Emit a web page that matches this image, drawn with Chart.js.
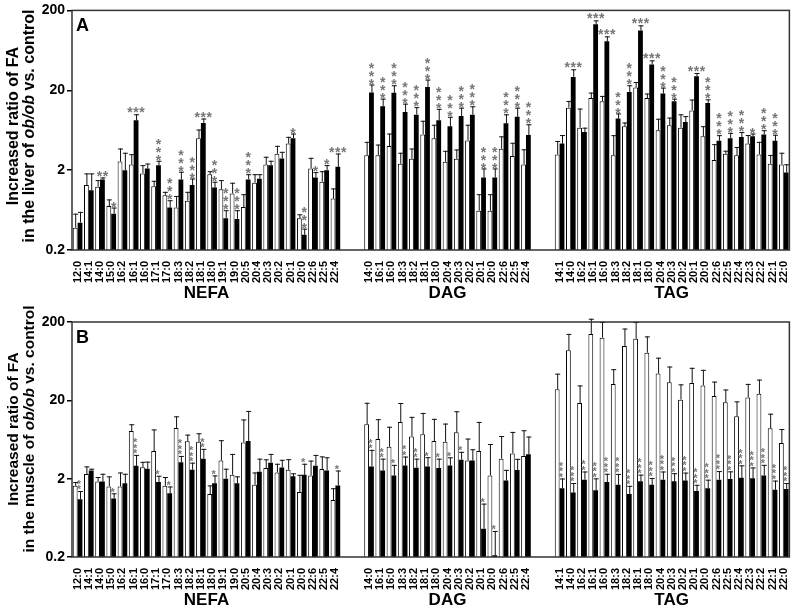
<!DOCTYPE html>
<html lang="en">
<head>
<meta charset="UTF-8" />
<title>FA ratio ob/ob vs control</title>
<script src="https://cdn.jsdelivr.net/npm/chart.js@4.4.1/dist/chart.umd.min.js"></script>
<style>
  body { margin: 0; background: #fff; }
  canvas { display: block; }
</style>
</head>
<body>
<canvas id="liver" width="800" height="300"></canvas>
<canvas id="muscle" width="800" height="309"></canvas>
<script>
// categories
const nefaLabels = ["12:0","14:1","14:0","15:0","16:2","16:1","16:0","17:1","17:0","18:3","18:2","18:1","18:0","19:1","19:0","20:5","20:4","20:3","20:2","20:1","20:0","22:6","22:5","22:4"];
const dagLabels = ["14:0","16:1","16:0","18:3","18:2","18:1","18:0","20:4","20:3","20:2","20:1","20:0","22:6","22:5","22:4"];
const tagLabels = ["14:1","14:0","16:2","16:1","16:0","18:3","18:2","18:1","18:0","20:4","20:3","20:2","20:1","20:0","22:6","22:5","22:4","22:3","22:2","22:1","22:0"];
const groupNames = ["NEFA", "DAG", "TAG"];
const yTicks = [0.2, 2, 20, 200];

// A: liver (open = white bars, filled = black bars)
const liverNefaOpen = [0.38,1.3,1.24,0.71,2.56,2.35,1.82,1.26,0.97,0.68,0.83,5.0,1.77,1.15,1.02,0.69,1.39,2.35,3.2,4.3,0.5,2.1,1.43,0.88];
const liverNefaOpenErr = [0.19,0.52,0.26,0.15,1.17,0.82,0.49,0.21,0.1,0.27,0.24,1.45,0.17,0.35,0.37,0.31,0.39,0.59,0.83,0.92,0.06,0.75,0.51,0.3];
const liverNefaFilled = [0.44,1.12,1.53,0.57,2.0,8.4,2.1,2.31,0.68,1.53,1.3,7.8,1.21,0.5,0.49,1.53,1.56,2.3,2.8,5.0,0.31,1.62,2.0,2.2];
const liverNefaFilledErr = [0.16,0.7,0.09,0.11,1.3,1.6,0.32,0.31,0.16,0.38,0.27,1.05,0.22,0.13,0.14,0.25,0.22,0.32,0.59,0.74,0.06,0.27,0.31,1.03];
const liverDagOpen = [3.08,3.08,4.0,2.4,2.77,5.6,5.0,2.54,2.77,4.7,0.62,0.62,3.7,3.0,2.35];
const liverDagOpenErr = [1.44,1.1,1.74,0.9,0.96,2.7,2.4,0.95,0.86,2.7,0.38,0.38,1.6,1.4,1.3];
const liverDagFilled = [18.8,12.6,18.6,10.7,9.9,22,8.4,7.1,9.5,9.9,1.62,1.62,7.7,9.3,5.5];
const liverDagFilledErr = [4.8,3.1,4.5,2.9,2.4,5.2,3.3,2.2,2.6,2.7,0.48,0.48,2.3,2.8,2.0];
const liverTagOpen = [3.14,12.1,6.8,16,14.6,3.08,7.1,21.6,16,6.3,7.3,6.8,11.2,5.3,2.67,3.2,3.08,4.3,3.15,2.4,2.35];
const liverTagOpenErr = [1.5,2.6,5.0,2.7,2.4,2.4,0.8,3.8,2.2,2.5,1.8,3.2,4.1,1.8,1.56,0.3,0.82,1.2,1.37,0.7,0.95];
const liverTagFilled = [4.3,29.4,6.0,134,82,8.85,19,112,42,18.2,14.6,8.0,30,13.9,4.65,5.0,5.2,5.3,5.6,4.65,1.87];
const liverTagFilledErr = [1.2,7.2,0.8,16,12.6,1.4,4.1,18,5.4,3.4,1.1,1.5,2.9,1.5,0.83,0.86,0.8,0.44,0.72,0.9,0.5];
const liverNefaSig = ["","","**","*","","***","","***","***","***","***","***","***","***","***","***","","","","*","***","*","*","***"];
const liverDagSig = ["***","***","***","***","***","***","***","***","***","***","***","***","***","***","***"];
const liverTagSig = ["","***","","***","***","***","***","***","***","***","***","","***","***","***","***","***","*","***","***",""];

// B: muscle
const muscleNefaOpen = [1.62,2.29,1.84,1.59,1.59,8.1,2.8,4.5,1.62,8.9,6.0,5.9,1.27,3.4,2.24,5.8,1.67,2.73,2.4,2.6,1.35,2.2,2.65,1.07];
const muscleNefaOpenErr = [0.19,0.58,0.26,0.55,0.81,1.8,0.48,4.0,0.48,3.6,1.3,1.7,0.37,2.8,1.9,5.6,0.73,0.8,0.7,0.95,0.89,1.2,1.2,0.44];
const muscleNefaFilled = [1.09,2.55,1.84,1.12,1.75,2.92,2.68,1.81,1.3,3.25,2.6,3.6,1.75,2.0,1.75,6.05,2.45,3.2,2.78,2.14,2.24,2.92,2.55,1.64];
const muscleNefaFilledErr = [0.3,0.13,0.47,0.18,0.56,1.1,0.62,0.37,0.29,0.65,0.6,1.2,0.45,0.68,0.39,8.6,1.15,0.94,0.7,0.2,0.86,1.1,1.2,0.9];
const muscleDagOpen = [9.9,6.4,5.1,10.6,6.9,7.4,6.05,5.9,7.8,3.4,4.5,2.2,3.6,4.2,3.9];
const muscleDagOpenErr = [8.7,5.1,4.1,7.9,5.4,6.4,5.55,4.2,6.7,3.1,6.1,3.34,3.4,3.7,4.4];
const muscleDagFilled = [2.86,2.55,2.2,2.95,2.76,2.86,2.73,2.95,3.5,3.4,0.46,0.21,1.89,2.58,4.1];
const muscleDagFilledErr = [1.8,1.05,0.8,0.88,0.84,0.9,0.87,0.8,0.9,1.35,0.5,0.22,0.7,1.0,2.8];
const muscleTagOpen = [27.8,87,18.5,141,126,32.4,99,122,81,44,34,20.4,33.4,31,22.7,18.9,12.5,21.8,24.2,8.8,5.7];
const muscleTagOpenErr = [16,54,12.5,79,74,17.6,66,78,50,26,20,11.6,18.6,18,12,8.6,6.9,10.6,12.6,4.7,2.9];
const muscleTagFilled = [1.51,1.33,1.94,1.42,1.81,1.67,1.27,1.85,1.67,1.94,1.85,1.89,1.39,1.51,1.94,1.98,2.06,2.02,2.2,1.44,1.48];
const muscleTagFilledErr = [0.5,0.43,0.53,0.6,0.5,0.63,0.35,0.4,0.37,0.53,0.5,0.5,0.28,0.43,0.56,0.5,0.9,0.76,0.8,0.45,0.28];
const muscleNefaSig = ["**","","","*","","***","","*","*","***","***","**","*","","","","","","","","*","","","*"];
const muscleDagSig = ["**","**","*","**","**","*","*","*","*","","*","*","","",""];
const muscleTagSig = ["***","***","**","***","***","***","***","***","***","***","***","***","***","***","***","***","***","***","***","***","***"];

// two empty slots between groups
const join = (a, b, c) => [...a, null, null, ...b, null, null, ...c];
const labels = [...nefaLabels, "", "", ...dagLabels, "", "", ...tagLabels];
const groupRanges = [
  [0, nefaLabels.length - 1],
  [nefaLabels.length + 2, nefaLabels.length + 1 + dagLabels.length],
  [nefaLabels.length + dagLabels.length + 4, labels.length - 1]
];
const FONT = "'Liberation Sans', Arial, sans-serif";

function drawStars(ctx, x, tip, sig, flat, size, step) {
  ctx.font = "bold " + size + "px " + FONT;
  ctx.fillStyle = "#777";
  ctx.textAlign = "center";
  ctx.textBaseline = "alphabetic";
  const dy = size * 0.58;
  const n = sig.length;
  for (let k = 0; k < n; k++) {
    if (flat) ctx.fillText("*", x + (k - (n - 1) / 2) * 6, tip - 5 + dy);
    else ctx.fillText("*", x, tip - 4 - k * step + dy);
  }
}

const decor = {
  id: "decor",
  afterDatasetsDraw(chart, args, o) {
    const ctx = chart.ctx, ys = chart.scales.y;
    ctx.save();
    // error bars
    chart.data.datasets.forEach((ds, i) => {
      chart.getDatasetMeta(i).data.forEach((bar, j) => {
        const v = ds.data[j];
        if (v == null) return;
        const t = ys.getPixelForValue(v + ds.err[j]);
        ctx.strokeStyle = "#111";
        ctx.lineWidth = 1;
        ctx.beginPath();
        ctx.moveTo(bar.x + 0.5, bar.y);
        ctx.lineTo(bar.x + 0.5, t);
        ctx.moveTo(bar.x - 2, t + 0.5);
        ctx.lineTo(bar.x + 3, t + 0.5);
        ctx.stroke();
      });
    });
    // significance stars above filled bars
    const ds = chart.data.datasets[1];
    const meta = chart.getDatasetMeta(1);
    o.sig.forEach((s, j) => {
      if (!s) return;
      const tip = ys.getPixelForValue(ds.data[j] + ds.err[j]);
      drawStars(ctx, meta.data[j].x + o.starDx, tip, s, o.flat.includes(j), o.starSize, o.starStep);
    });
    ctx.restore();
  },
  afterDraw(chart, args, o) {
    const ctx = chart.ctx, a = chart.chartArea, xs = chart.scales.x;
    ctx.save();
    ctx.strokeStyle = "#333";
    ctx.lineWidth = 1.5;
    ctx.strokeRect(a.left, a.top, a.right - a.left, a.bottom - a.top);
    ctx.fillStyle = "#000";
    // panel letter
    ctx.font = "bold 18px " + FONT;
    ctx.textAlign = "left";
    ctx.textBaseline = "middle";
    ctx.fillText(o.letter, a.left + 4, a.top + 16);
    // group names
    ctx.font = "bold 17px " + FONT;
    ctx.textAlign = "center";
    groupRanges.forEach((r, g) => {
      const cx = (xs.getPixelForValue(r[0]) + xs.getPixelForValue(r[1])) / 2;
      ctx.fillText(groupNames[g], cx, o.groupY);
    });
    // y title, two rotated lines with italic ob/ob
    const lines = [
      [["Increased ratio of FA", "bold"]],
      [["in the " + o.tissue + " of ", "bold"], ["ob/ob", "italic bold"], [" vs. control", "bold"]]
    ];
    const fs = o.titleSize + "px ";
    [14, 30].forEach((lx, li) => {
      ctx.save();
      ctx.translate(lx, o.titleY);
      ctx.rotate(-Math.PI / 2);
      ctx.textAlign = "left";
      ctx.textBaseline = "middle";
      let total = 0;
      lines[li].forEach(p => { ctx.font = p[1] + " " + fs + FONT; total += ctx.measureText(p[0]).width; });
      let x = -total / 2;
      lines[li].forEach(p => {
        ctx.font = p[1] + " " + fs + FONT;
        ctx.fillText(p[0], x, 0);
        x += ctx.measureText(p[0]).width;
      });
      ctx.restore();
    });
    ctx.restore();
  }
};

function makePanel(id, p) {
  return new Chart(document.getElementById(id), {
    type: "bar",
    data: {
      labels: labels,
      datasets: [
        { data: p.open, err: p.openErr, backgroundColor: "#fff", borderColor: "#000", borderWidth: 1,
          categoryPercentage: 0.86, barPercentage: 1 },
        { data: p.filled, err: p.filledErr, backgroundColor: "#000", borderWidth: 0,
          categoryPercentage: 0.86, barPercentage: 1 }
      ]
    },
    options: {
      responsive: false,
      animation: false,
      devicePixelRatio: 1,
      layout: { padding: { top: p.top, right: 3, left: 0, bottom: 0 } },
      plugins: {
        legend: { display: false },
        tooltip: { enabled: false },
        decor: { sig: p.sig, flat: p.flat, starDx: p.starDx, starSize: p.starSize, starStep: p.starStep,
                 letter: p.letter, tissue: p.tissue, groupY: p.groupY, titleY: p.titleY, titleSize: p.titleSize }
      },
      scales: {
        x: {
          grid: { display: false },
          border: { display: false },
          ticks: { autoSkip: false, maxRotation: 90, minRotation: 90, padding: 3, color: "#000",
                   font: { family: FONT, size: 11, weight: "bold" } },
          afterFit: s => { s.height = p.xHeight; }
        },
        y: {
          type: "logarithmic",
          min: 0.2,
          max: 200,
          border: { display: false },
          grid: { drawOnChartArea: false, tickLength: 5, color: "#000", lineWidth: 1.5 },
          ticks: { autoSkip: false, padding: 2, color: "#000", callback: v => String(v),
                   font: { family: FONT, size: 14, weight: "bold" } },
          afterBuildTicks: s => { s.ticks = yTicks.map(v => ({ value: v })); },
          afterFit: s => { s.width = 72; }
        }
      }
    },
    plugins: [decor]
  });
}

const tagStart = nefaLabels.length + dagLabels.length + 4;
makePanel("liver", {
  open: join(liverNefaOpen, liverDagOpen, liverTagOpen),
  openErr: join(liverNefaOpenErr, liverDagOpenErr, liverTagOpenErr),
  filled: join(liverNefaFilled, liverDagFilled, liverTagFilled),
  filledErr: join(liverNefaFilledErr, liverDagFilledErr, liverTagFilledErr),
  sig: join(liverNefaSig, liverDagSig, liverTagSig),
  flat: [2, 5, 11, 23].concat([1, 3, 4, 7, 8, 12].map(i => i + tagStart)),
  starDx: 0, starSize: 14, starStep: 8,
  letter: "A", tissue: "liver", top: 9, xHeight: 50, groupY: 293, titleY: 126, titleSize: 16
});
makePanel("muscle", {
  open: join(muscleNefaOpen, muscleDagOpen, muscleTagOpen),
  openErr: join(muscleNefaOpenErr, muscleDagOpenErr, muscleTagOpenErr),
  filled: join(muscleNefaFilled, muscleDagFilled, muscleTagFilled),
  filledErr: join(muscleNefaFilledErr, muscleDagFilledErr, muscleTagFilledErr),
  sig: join(muscleNefaSig, muscleDagSig, muscleTagSig),
  flat: [],
  starDx: -1, starSize: 11, starStep: 5.5,
  letter: "B", tissue: "muscle", top: 22, xHeight: 52, groupY: 300, titleY: 129, titleSize: 15.5
});
</script>
</body>
</html>
